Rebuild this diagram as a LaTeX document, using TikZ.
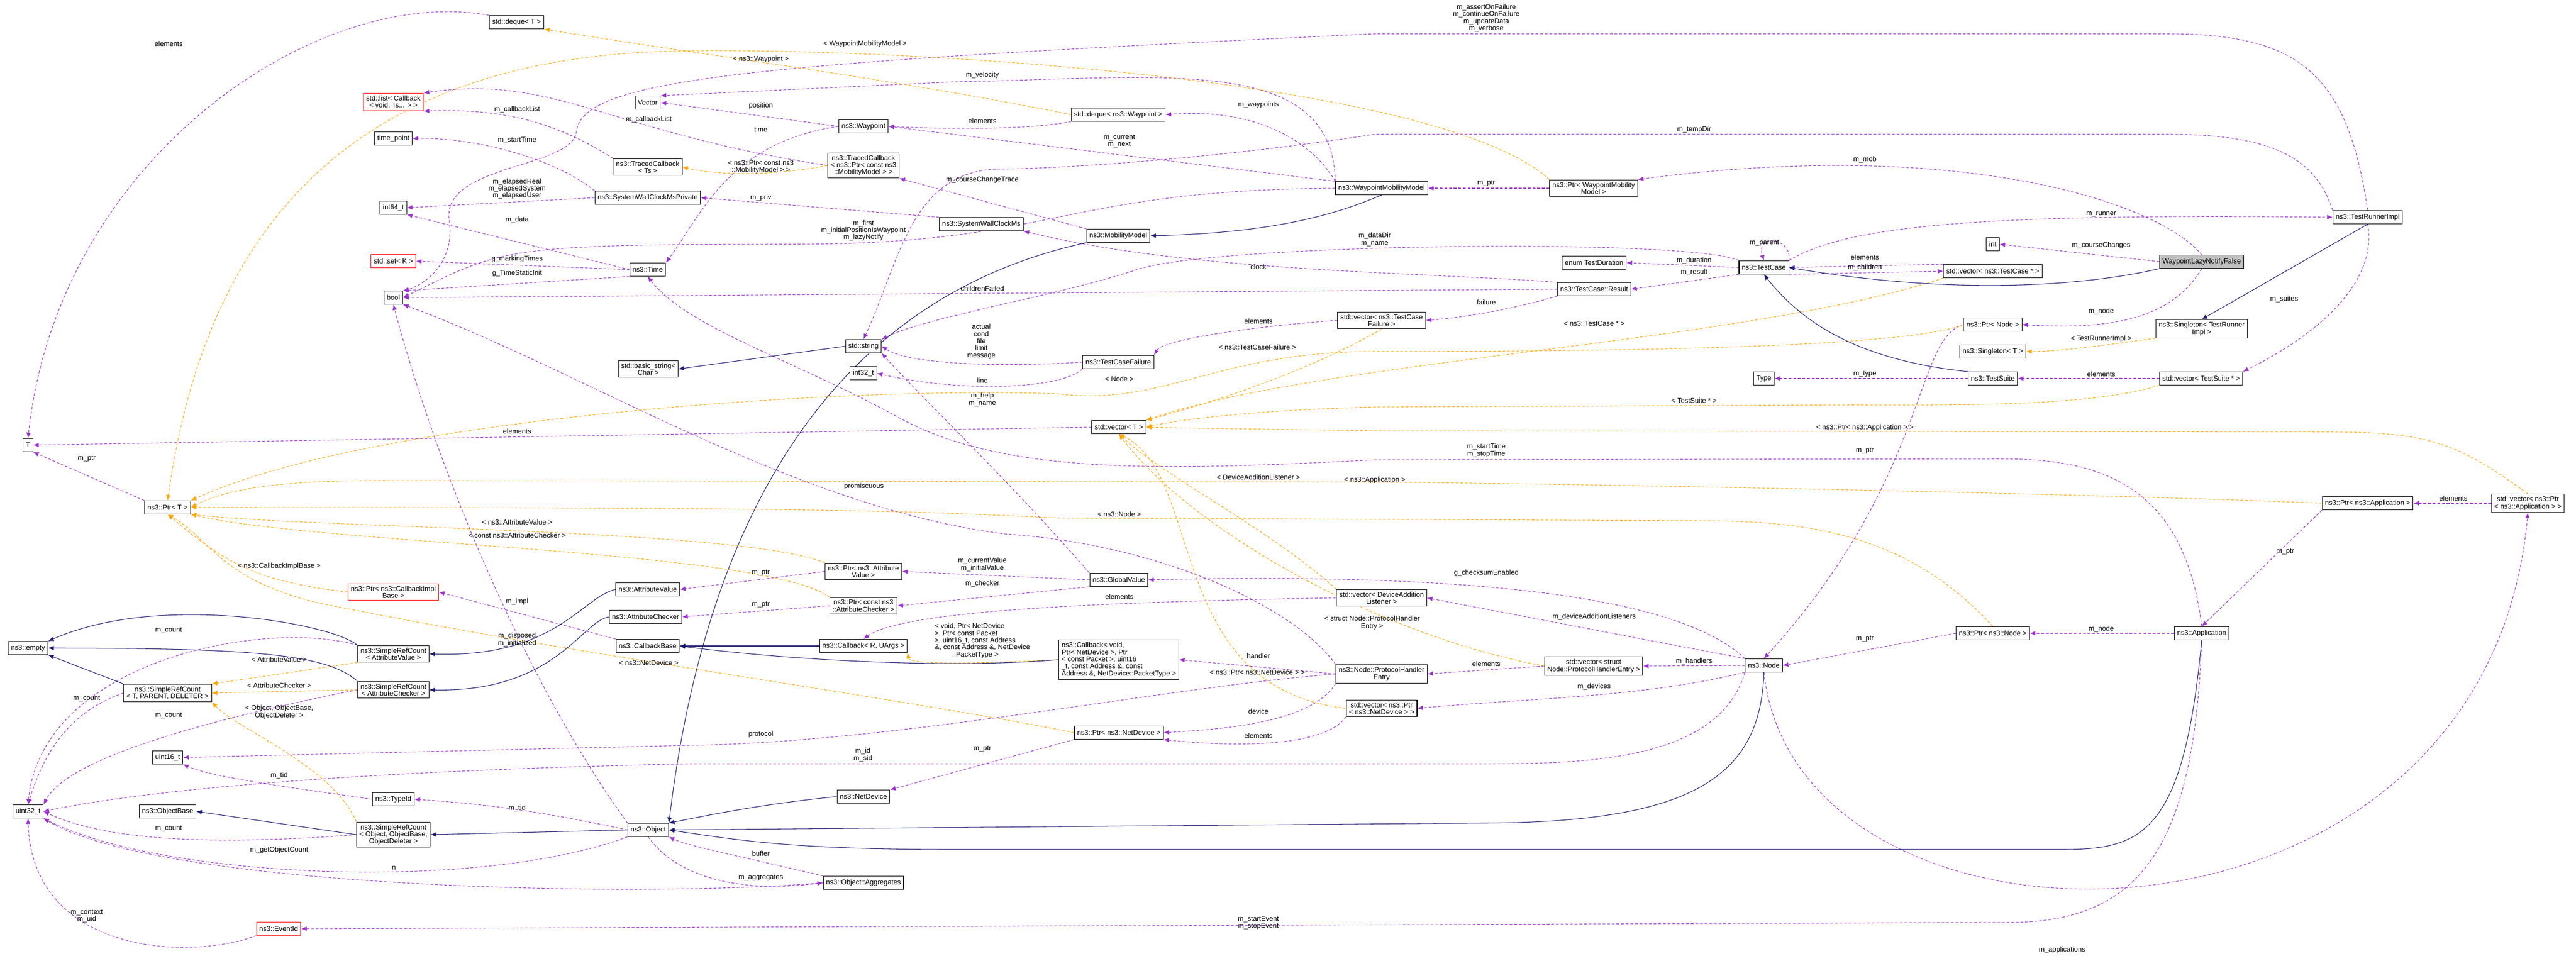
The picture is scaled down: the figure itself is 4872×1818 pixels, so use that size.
\documentclass[tikz,border=0pt]{standalone}
\usepackage{fontspec}
\setmainfont{Liberation Sans}
\usetikzlibrary{arrows.meta,backgrounds}
\definecolor{dpurple}{HTML}{9A32CD}
\definecolor{dorange}{HTML}{FFA500}
\definecolor{dnavy}{HTML}{191970}
\newcommand{\fnt}{\fontsize{7.5}{7.6}\selectfont}
\tikzset{
 box/.style={draw=black, line width=0.6pt, fill=white, font=\fnt, inner xsep=3pt, inner ysep=2.5pt, minimum height=0.5cm, align=center},
 rbox/.style={box, draw=red},
 gbox/.style={box, fill=black!25},
 lbl/.style={font=\fnt, inner sep=0pt, align=center},
 mem/.style={draw=dpurple, dash pattern=on 3pt off 2pt, line width=0.6pt, -{Latex[length=6pt,width=5pt]}},
 tpl/.style={mem, draw=dorange},
 inh/.style={draw=dnavy, line width=0.6pt, -{Latex[length=6pt,width=5pt]}},
}
\begin{document}
\begin{tikzpicture}[x=0.02cm,y=-0.02cm]
\useasboundingbox (0,0) rectangle (4872,1818);
% nodes
\node[box] (dqT) at (977,42) {std::deque< T >};
\node[rbox] (list) at (744,193) {std::list< Callback\\< void, Ts... > >};
\node[box] (tp) at (744,262) {time\_point};
\node[box] (TCts) at (1225,316) {ns3::TracedCallback\\< Ts >};
\node[box] (SWCMP) at (1225,374) {ns3::SystemWallClockMsPrivate};
\node[box] (i64) at (744,393) {int64\_t};
\node[rbox] (set) at (744,494) {std::set< K >};
\node[box] (Time) at (1225,510) {ns3::Time};
\node[box] (bool) at (744,563) {bool};
\node[box] (Vector) at (1225,194) {Vector};
\node[box] (Wp) at (1633,239) {ns3::Waypoint};
\node[box] (dqWp) at (2115,217) {std::deque< ns3::Waypoint >};
\node[box] (TCptr) at (1633,313) {ns3::TracedCallback\\< ns3::Ptr< const ns3\\::MobilityModel > >};
\node[box] (SWCM) at (1856,424) {ns3::SystemWallClockMs};
\node[box] (MM) at (2115,446) {ns3::MobilityModel};
\node[box] (WMM) at (2613,356) {ns3::WaypointMobilityModel};
\node[box] (vecTCF) at (2613,606) {std::vector< ns3::TestCase\\Failure >};
\node[box] (string) at (1633,655) {std::string};
\node[box] (bstr) at (1226,698) {std::basic\_string<\\ Char >};
\node[box] (i32) at (1633,706) {int32\_t};
\node[box] (TCF) at (2115,685) {ns3::TestCaseFailure};
\node[box] (vecT) at (2116,808) {std::vector< T >};
\node[box] (PtrAV) at (1633,1081) {ns3::Ptr< ns3::Attribute\\Value >};
\node[box] (GV) at (2116,1097) {ns3::GlobalValue};
\node[box] (PtrAC) at (1633,1146) {ns3::Ptr< const ns3\\::AttributeChecker >};
\node[box] (CbRU) at (1633,1222) {ns3::Callback< R, UArgs >};
\node[box, align=left] (CbV) at (2116,1248) {ns3::Callback< void,\\ Ptr< NetDevice >, Ptr\\< const Packet >, uint16\\\_t, const Address \&, const\\ Address \&, NetDevice::PacketType >};
\node[box] (vecDAL) at (2613,1131) {std::vector< DeviceAddition\\Listener >};
\node[box] (PHE) at (2613,1275) {ns3::Node::ProtocolHandler\\Entry};
\node[box] (vecPND) at (2613,1340) {std::vector< ns3::Ptr\\< ns3::NetDevice > >};
\node[box] (PtrND) at (2116,1386) {ns3::Ptr< ns3::NetDevice >};
\node[box] (ND) at (1633,1507) {ns3::NetDevice};
\node[box] (Agg) at (1633,1670) {ns3::Object::Aggregates};
\node[box] (empty) at (53,1226) {ns3::empty};
\node[box] (SRCav) at (744,1237) {ns3::SimpleRefCount\\< AttributeValue >};
\node[box] (SRCac) at (744,1305) {ns3::SimpleRefCount\\< AttributeChecker >};
\node[box] (SRCt) at (317,1311) {ns3::SimpleRefCount\\< T, PARENT, DELETER >};
\node[box] (u16) at (317,1433) {uint16\_t};
\node[box] (TId) at (744,1512) {ns3::TypeId};
\node[box] (u32) at (53,1535) {uint32\_t};
\node[box] (OB) at (317,1535) {ns3::ObjectBase};
\node[box] (SRCo) at (744,1579) {ns3::SimpleRefCount\\< Object, ObjectBase,\\ ObjectDeleter >};
\node[box] (Obj) at (1226,1570) {ns3::Object};
\node[rbox] (Ev) at (527,1757) {ns3::EventId};
\node[box] (CbB) at (1225,1222) {ns3::CallbackBase};
\node[box] (T) at (53,842) {T};
\node[box] (PtrT) at (317,960) {ns3::Ptr< T >};
\node[rbox] (PtrCIB) at (744,1120) {ns3::Ptr< ns3::CallbackImpl\\Base >};
\node[box] (AV) at (1225,1115) {ns3::AttributeValue};
\node[box] (AC) at (1221,1167) {ns3::AttributeChecker};
\node[box] (PtrWMM) at (3014,356) {ns3::Ptr< WaypointMobility\\Model >};
\node[box] (TD) at (3015,497) {enum TestDuration};
\node[box] (Res) at (3015,547) {ns3::TestCase::Result};
\node[box] (TC) at (3336,506) {ns3::TestCase};
\node[box] (vecTC) at (3769,513) {std::vector< ns3::TestCase * >};
\node[box] (int) at (3769,462) {int};
\node[box] (PtrNode) at (3769,614) {ns3::Ptr< Node >};
\node[box] (TRI) at (4478,411) {ns3::TestRunnerImpl};
\node[gbox] (WLNF) at (4164,495) {WaypointLazyNotifyFalse};
\node[box] (STRI) at (4164,622) {ns3::Singleton< TestRunner\\Impl >};
\node[box] (ST) at (3769,665) {ns3::Singleton< T >};
\node[box] (Type) at (3336,716) {Type};
\node[box] (TS) at (3769,716) {ns3::TestSuite};
\node[box] (vecTS) at (4163,716) {std::vector< TestSuite * >};
\node[box] (PtrApp) at (4478,952) {ns3::Ptr< ns3::Application >};
\node[box] (vecApp) at (4781,952) {std::vector< ns3::Ptr\\< ns3::Application > >};
\node[box] (App) at (4164,1198) {ns3::Application};
\node[box] (PtrNN) at (3769,1198) {ns3::Ptr< ns3::Node >};
\node[box] (Node) at (3336,1259) {ns3::Node};
\node[box] (vecPHE) at (3014,1260) {std::vector< struct\\ Node::ProtocolHandlerEntry >};
% labels
\node[lbl] (l1) at (319,83) {elements};
\node[lbl] (l2) at (978,207) {m\_callbackList};
\node[lbl] (l3) at (1227,226) {m\_callbackList};
\node[lbl] (l4) at (978,265) {m\_startTime};
\node[lbl] (l5) at (978,357) {m\_elapsedReal\\m\_elapsedSystem\\m\_elapsedUser};
\node[lbl] (l6) at (978,416) {m\_data};
\node[lbl] (l7) at (978,490) {g\_markingTimes};
\node[lbl] (l8) at (978,517) {g\_TimeStaticInit};
\node[lbl] (l9) at (1439,200) {position};
\node[lbl] (l10) at (1439,245) {time};
\node[lbl] (l11) at (1636,83) {< WaypointMobilityModel >};
\node[lbl] (l12) at (1439,112) {< ns3::Waypoint >};
\node[lbl] (l13) at (1858,142) {m\_velocity};
\node[lbl] (l14) at (1858,229) {elements};
\node[lbl] (l15) at (2380,198) {m\_waypoints};
\node[lbl] (l16) at (2117,267) {m\_current\\m\_next};
\node[lbl] (l17) at (1439,316) {< ns3::Ptr< const ns3\\::MobilityModel > >};
\node[lbl] (l18) at (1858,340) {m\_courseChangeTrace};
\node[lbl] (l19) at (1439,374) {m\_priv};
\node[lbl] (l20) at (1633,436) {m\_first\\m\_initialPositionIsWaypoint\\m\_lazyNotify};
\node[lbl] (l21) at (2380,505) {clock};
\node[lbl] (l22) at (1858,546) {childrenFailed};
\node[lbl] (l23) at (2380,608) {elements};
\node[lbl] (l24) at (1856,646) {actual\\cond\\file\\limit\\message};
\node[lbl] (l25) at (1858,720) {line};
\node[lbl] (l26) at (2117,717) {< Node >};
\node[lbl] (l27) at (1858,756) {m\_help\\m\_name};
\node[lbl] (l28) at (2378,657) {< ns3::TestCaseFailure >};
\node[lbl] (l29) at (1634,920) {promiscuous};
\node[lbl] (l30) at (2380,903) {< DeviceAdditionListener >};
\node[lbl] (l31) at (2117,973) {< ns3::Node >};
\node[lbl] (l32) at (1439,1084) {m\_ptr};
\node[lbl] (l33) at (1439,1144) {m\_ptr};
\node[lbl] (l34) at (1858,1068) {m\_currentValue\\m\_initialValue};
\node[lbl] (l35) at (1858,1104) {m\_checker};
\node[lbl] (l36) at (2117,1129) {elements};
\node[lbl, align=left] (l37) at (1858,1212) {< void, Ptr< NetDevice\\>, Ptr< const Packet\\>, uint16\_t, const Address\\\&, const Address \&, NetDevice\\\hspace*{2.5em}::PacketType >};
\node[lbl] (l38) at (2595,1178) {< struct Node::ProtocolHandler\\Entry >};
\node[lbl] (l39) at (2380,1241) {handler};
\node[lbl] (l40) at (2378,1272) {< ns3::Ptr< ns3::NetDevice > >};
\node[lbl] (l41) at (2380,1346) {device};
\node[lbl] (l42) at (2380,1392) {elements};
\node[lbl] (l43) at (1858,1417) {m\_ptr};
\node[lbl] (l44) at (1632,1428) {m\_id\\m\_sid};
\node[lbl] (l45) at (1439,1615) {buffer};
\node[lbl] (l46) at (1439,1661) {m\_aggregates};
\node[lbl] (l47) at (2380,1746) {m\_startEvent\\m\_stopEvent};
\node[lbl] (l48) at (528,1248) {< AttributeValue >};
\node[lbl] (l49) at (528,1297) {< AttributeChecker >};
\node[lbl] (l50) at (164,1322) {m\_count};
\node[lbl] (l51) at (528,1347) {< Object, ObjectBase,\\ObjectDeleter >};
\node[lbl] (l52) at (319,1354) {m\_count};
\node[lbl] (l53) at (528,1467) {m\_tid};
\node[lbl] (l54) at (978,1529) {m\_tid};
\node[lbl] (l55) at (319,1568) {m\_count};
\node[lbl] (l56) at (528,1608) {m\_getObjectCount};
\node[lbl] (l57) at (745,1642) {n};
\node[lbl] (l58) at (164,1733) {m\_context\\m\_uid};
\node[lbl] (l59) at (978,816) {elements};
\node[lbl] (l60) at (164,868) {m\_ptr};
\node[lbl] (l61) at (978,988) {< ns3::AttributeValue >};
\node[lbl] (l62) at (978,1013) {< const ns3::AttributeChecker >};
\node[lbl] (l63) at (528,1071) {< ns3::CallbackImplBase >};
\node[lbl] (l64) at (978,1138) {m\_impl};
\node[lbl] (l65) at (978,1210) {m\_disposed\\m\_initialized};
\node[lbl] (l66) at (319,1193) {m\_count};
\node[lbl] (l67) at (1227,1254) {< ns3::NetDevice >};
\node[lbl] (l68) at (2811,34) {m\_assertOnFailure\\m\_continueOnFailure\\m\_updateData\\m\_verbose};
\node[lbl] (l69) at (3204,245) {m\_tempDir};
\node[lbl] (l70) at (2811,347) {m\_ptr};
\node[lbl] (l71) at (3527,302) {m\_mob};
\node[lbl] (l72) at (3204,493) {m\_duration};
\node[lbl] (l73) at (3204,515) {m\_result};
\node[lbl] (l74) at (2811,572) {failure};
\node[lbl] (l75) at (2600,453) {m\_dataDir\\m\_name};
\node[lbl] (l76) at (3337,460) {m\_parent};
\node[lbl] (l77) at (3527,487) {elements};
\node[lbl] (l78) at (3527,506) {m\_children};
\node[lbl] (l79) at (3015,612) {< ns3::TestCase * >};
\node[lbl] (l80) at (3974,405) {m\_runner};
\node[lbl] (l81) at (3974,464) {m\_courseChanges};
\node[lbl] (l82) at (3974,589) {m\_node};
\node[lbl] (l83) at (4320,566) {m\_suites};
\node[lbl] (l84) at (3974,641) {< TestRunnerImpl >};
\node[lbl] (l85) at (3527,708) {m\_type};
\node[lbl] (l86) at (3974,708) {elements};
\node[lbl] (l87) at (3204,758) {< TestSuite * >};
\node[lbl] (l88) at (3527,809) {< ns3::Ptr< ns3::Application > >};
\node[lbl] (l89) at (2811,852) {m\_startTime\\m\_stopTime};
\node[lbl] (l90) at (3527,853) {m\_ptr};
\node[lbl] (l91) at (2600,908) {< ns3::Application >};
\node[lbl] (l92) at (4640,943) {elements};
\node[lbl] (l93) at (4322,1044) {m\_ptr};
\node[lbl] (l94) at (3974,1190) {m\_node};
\node[lbl] (l95) at (3527,1209) {m\_ptr};
\node[lbl] (l96) at (2811,1084) {g\_checksumEnabled};
\node[lbl] (l97) at (3015,1167) {m\_deviceAdditionListeners};
\node[lbl] (l98) at (3204,1251) {m\_handlers};
\node[lbl] (l99) at (3015,1299) {m\_devices};
\node[lbl] (l100) at (2811,1256) {elements};
\node[lbl] (l101) at (1439,1389) {protocol};
\node[lbl] (l102) at (3900,1797) {m\_applications};
% edges
\begin{scope}[on background layer]
% members
\draw[mem] (dqT.north west) .. controls (600,-30) and (110,300) .. (T.north);
\draw[mem] (vecT.west) -- (T.east);
\draw[mem] (PtrT.north west) -- (T.south east);
\draw[mem] (TCts.north west) .. controls (1050,230) and (950,205) .. (list.south east);
\draw[mem] (TCptr.west) .. controls (1150,250) and (1050,140) .. (list.north east);
\draw[mem] (SWCMP.north west) .. controls (1050,300) and (900,260) .. (tp.east);
\draw[mem] (SWCMP.west) -- (i64.east);
\draw[mem] (Time.west) -- (i64.south east);
\draw[mem] (Time.west) -- (set.east);
\draw[mem] (Time.south west) -- (bool.north east);
\draw[mem] (Wp.west) -- (Vector.east);
\draw[mem] (Wp.west) .. controls (1380,270) and (1330,400) .. (Time.north east);
\draw[mem] (WMM.north west) .. controls (2520,100) and (2200,148) .. (1800,155) -- (Vector.north east);
\draw[mem] (WMM.north west) -- (Wp.east);
\draw[mem] (WMM.north west) .. controls (2470,250) and (2350,205) .. (dqWp.east);
\draw[mem] (dqWp.south west) .. controls (1950,245) and (1800,245) .. (Wp.east);
\draw[mem] (WMM.west) .. controls (2000,360) and (2000,462) .. (1500,462) .. controls (950,462) and (950,470) .. (bool.east);
\draw[mem] (MM.north west) -- (TCptr.south east);
\draw[mem] (SWCM.north west) -- (SWCMP.east);
\draw[mem] (Res.north west) .. controls (2700,515) and (2250,515) .. (SWCM.south east);
\draw[mem] (Res.west) -- (bool.east);
\draw[mem] (Res.south west) .. controls (2880,580) and (2780,600) .. (vecTCF.east);
\draw[mem] (TRI.north) .. controls (4440,140) and (4350,64) .. (4100,64) -- (2600,64) .. controls (1400,120) and (1100,150) .. (1090,250) .. controls (1080,320) and (830,310) .. (850,420) .. controls (860,500) and (800,540) .. (bool.north east);
\draw[mem] (TRI.north west) .. controls (4380,300) and (4300,254) .. (4100,254) -- (2600,254) .. controls (2300,300) and (2000,320) .. (1880,320) .. controls (1720,330) and (1700,500) .. (string.north);
\draw[mem] (TRI.south) .. controls (4500,550) and (4350,650) .. (vecTS.north east);
\draw[mem] (TC.north west) .. controls (3200,450) and (2300,460) .. (2150,510) .. controls (2000,560) and (1750,600) .. (string.north east);
\draw[mem] (TC.west) -- (TD.east);
\draw[mem] (TC.south west) -- (Res.east);
\draw[mem] (TC.north east) .. controls (3390,450) and (3320,440) .. (TC.north);
\draw[mem] (TC.south east) -- (vecTC.west);
\draw[mem] (vecTC.north west) -- (TC.east);
\draw[mem] (TC.north east) .. controls (3500,420) and (3800,405) .. (TRI.west);
\draw[mem] (WLNF.west) -- (int.east);
\draw[mem] (WLNF.south) .. controls (4110,600) and (4000,625) .. (PtrNode.east);
\draw[mem] (WLNF.north) .. controls (4080,380) and (3700,260) .. (PtrWMM.north east);
\draw[mem] (PtrWMM.west) -- (WMM.east);
\draw[mem] (vecTCF.west) .. controls (2400,615) and (2200,640) .. (TCF.north east);
\draw[mem] (TCF.west) .. controls (1900,695) and (1720,690) .. (string.east);
\draw[mem] (TCF.south west) .. controls (2000,740) and (1800,740) .. (i32.east);
\draw[mem] (TS.west) -- (Type.east);
\draw[mem] (vecTS.west) -- (TS.east);
\draw[mem] (PtrNode.west) .. controls (3620,640) and (3650,900) .. (Node.north);
\draw[mem] (PtrNN.west) -- (Node.east);
\draw[mem] (App.north) .. controls (4130,900) and (3950,868) .. (3780,868) -- (2600,870) .. controls (2200,890) and (1900,900) .. (1700,790) .. controls (1500,680) and (1300,620) .. (Time.south);
\draw[mem] (App.west) -- (PtrNN.east);
\draw[mem] (App.south) .. controls (4150,1600) and (4050,1745) .. (3800,1745) -- (Ev.east);
\draw[mem] (PtrApp.south west) -- (App.north);
\draw[mem] (vecApp.west) -- (PtrApp.east);
\draw[mem] (Node.south) .. controls (3400,1860) and (4700,1860) .. (vecApp.south);
\draw[mem] (Node.south west) .. controls (3250,1440) and (3000,1445) .. (2800,1445) -- (1300,1445) .. controls (600,1460) and (250,1500) .. (u32.east);
\draw[mem] (Node.north west) .. controls (3200,1150) and (2900,1080) .. (GV.east);
\draw[mem] (Node.north west) -- (vecDAL.east);
\draw[mem] (Node.west) -- (vecPHE.east);
\draw[mem] (Node.south west) .. controls (3100,1320) and (2900,1320) .. (vecPND.east);
\draw[mem] (vecDAL.west) .. controls (2000,1140) and (1700,1160) .. (CbRU.north);
\draw[mem] (vecPHE.west) -- (PHE.east);
\draw[mem] (PHE.west) -- (CbV.east);
\draw[mem] (PHE.south west) .. controls (2480,1370) and (2300,1380) .. (PtrND.east);
\draw[mem] (PHE.north west) .. controls (2450,1150) and (2200,1030) .. (1900,1010) .. controls (1500,960) and (1100,700) .. (bool.south east);
\draw[mem] (PHE.west) .. controls (2200,1300) and (1700,1405) .. (1300,1410) -- (u16.east);
\draw[mem] (vecPND.south west) .. controls (2500,1420) and (2300,1410) .. (PtrND.south east);
\draw[mem] (PtrND.south west) -- (ND.north east);
\draw[mem] (GV.west) -- (PtrAV.east);
\draw[mem] (GV.south west) -- (PtrAC.east);
\draw[mem] (GV.north west) .. controls (1900,900) and (1750,760) .. (string.south east);
\draw[mem] (PtrAV.west) -- (AV.east);
\draw[mem] (PtrAC.west) -- (AC.east);
\draw[mem] (CbB.north west) -- (PtrCIB.east);
\draw[mem] (Obj.north west) .. controls (1000,1300) and (830,900) .. (bool.south);
\draw[mem] (Obj.west) .. controls (1000,1530) and (900,1520) .. (TId.east);
\draw[mem] (Obj.south west) .. controls (900,1690) and (300,1660) .. (u32.south east);
\draw[mem] (Obj.south) .. controls (1280,1660) and (1400,1690) .. (Agg.west);
\draw[mem] (Agg.north west) .. controls (1400,1620) and (1300,1600) .. (Obj.south east);
\draw[mem] (Agg.west) .. controls (1200,1700) and (300,1680) .. (u32.south east);
\draw[mem] (TId.west) .. controls (550,1490) and (400,1470) .. (u16.south east);
\draw[mem] (SRCt.west) .. controls (150,1340) and (90,1400) .. (u32.north);
\draw[mem] (SRCav.north west) .. controls (500,1170) and (80,1250) .. (u32.north);
\draw[mem] (SRCac.west) .. controls (300,1380) and (120,1450) .. (u32.north east);
\draw[mem] (SRCo.west) .. controls (400,1600) and (200,1590) .. (u32.east);
\draw[mem] (Ev.south west) .. controls (350,1820) and (60,1800) .. (u32.south);
% templates
\draw[tpl] (PtrWMM.north west) .. controls (2700,130) and (1500,80) .. (1200,100) .. controls (600,140) and (380,500) .. (PtrT.north);
\draw[tpl] (dqWp.west) .. controls (1700,150) and (1300,100) .. (dqT.south east);
\draw[tpl] (TCptr.west) .. controls (1450,335) and (1350,330) .. (TCts.east);
\draw[tpl] (vecTCF.south) .. controls (2480,700) and (2300,760) .. (vecT.north east);
\draw[tpl] (vecTC.south west) .. controls (3300,650) and (2500,680) .. (vecT.north east);
\draw[tpl] (PtrNode.west) .. controls (3600,660) and (3000,665) .. (2600,665) .. controls (2300,665) and (2200,770) .. (2000,745) .. controls (1600,730) and (700,790) .. (PtrT.north east);
\draw[tpl] (STRI.south west) .. controls (4000,650) and (3900,665) .. (ST.east);
\draw[tpl] (vecTS.south west) .. controls (3950,770) and (3700,766) .. (3500,766) -- (2600,770) .. controls (2400,775) and (2250,790) .. (vecT.east);
\draw[tpl] (vecApp.north) .. controls (4650,840) and (4600,817) .. (4400,817) -- (2600,815) .. controls (2400,812) and (2250,810) .. (vecT.east);
\draw[tpl] (PtrApp.west) .. controls (4000,935) and (3000,915) .. (2600,912) -- (721,909) .. controls (500,909) and (420,930) .. (PtrT.east);
\draw[tpl] (vecDAL.north west) .. controls (2400,1000) and (2200,900) .. (vecT.south);
\draw[tpl] (PtrNN.north) .. controls (3600,1000) and (3400,985) .. (3200,985) -- (2000,980) .. controls (1700,965) and (1500,960) .. (PtrT.east);
\draw[tpl] (vecPHE.west) .. controls (2600,1200) and (2250,1000) .. (vecT.south);
\draw[tpl] (vecPND.west) .. controls (2200,1300) and (2280,900) .. (vecT.south);
\draw[tpl] (PtrAV.north west) .. controls (1400,1000) and (600,1000) .. (PtrT.south east);
\draw[tpl] (PtrAC.north west) .. controls (1450,1040) and (600,1030) .. (PtrT.south east);
\draw[tpl] (PtrCIB.west) .. controls (480,1100) and (420,1060) .. (PtrT.south);
\draw[tpl] (PtrND.west) .. controls (1700,1320) and (1100,1240) .. (650,1150) .. controls (420,1110) and (400,1020) .. (PtrT.south);
\draw[tpl] (SRCav.south west) -- (SRCt.north east);
\draw[tpl] (SRCac.west) -- (SRCt.east);
\draw[tpl] (SRCo.north west) .. controls (630,1450) and (450,1380) .. (SRCt.south east);
\draw[tpl] (CbV.west) .. controls (1800,1258) and (1720,1255) .. (CbRU.south east);
% inheritance
\draw[inh] (WMM.south) .. controls (2560,390) and (2450,440) .. (MM.east);
\draw[inh] (MM.south west) .. controls (1500,580) and (1320,1100) .. (Obj.north east);
\draw[inh] (WLNF.south west) .. controls (3950,540) and (3700,560) .. (TC.east);
\draw[inh] (TRI.south) -- (STRI.north);
\draw[inh] (TS.north west) .. controls (3500,680) and (3400,600) .. (TC.south);
\draw[inh] (string.west) -- (bstr.east);
\draw[inh] (Node.south) .. controls (3330,1470) and (3200,1557) .. (2800,1557) -- (Obj.east);
\draw[inh] (App.south) .. controls (4130,1580) and (4050,1607) .. (3900,1607) -- (1800,1607) .. controls (1500,1607) and (1400,1590) .. (Obj.east);
\draw[inh] (ND.west) .. controls (1450,1520) and (1350,1540) .. (Obj.north east);
\draw[inh] (SRCo.west) -- (OB.east);
\draw[inh] (Obj.west) -- (SRCo.east);
\draw[inh] (SRCav.north west) .. controls (630,1180) and (300,1120) .. (empty.north east);
\draw[inh] (SRCac.north west) .. controls (620,1240) and (500,1226) .. (empty.east);
\draw[inh] (SRCt.north west) -- (empty.south east);
\draw[inh] (AV.west) .. controls (1100,1130) and (1050,1245) .. (SRCav.east);
\draw[inh] (AC.west) .. controls (1100,1175) and (1050,1310) .. (SRCac.east);
\draw[inh] (CbRU.west) -- (CbB.east);
\draw[inh] (CbV.west) .. controls (1800,1265) and (1500,1250) .. (CbB.east);
\end{scope}
\end{tikzpicture}
\end{document}
